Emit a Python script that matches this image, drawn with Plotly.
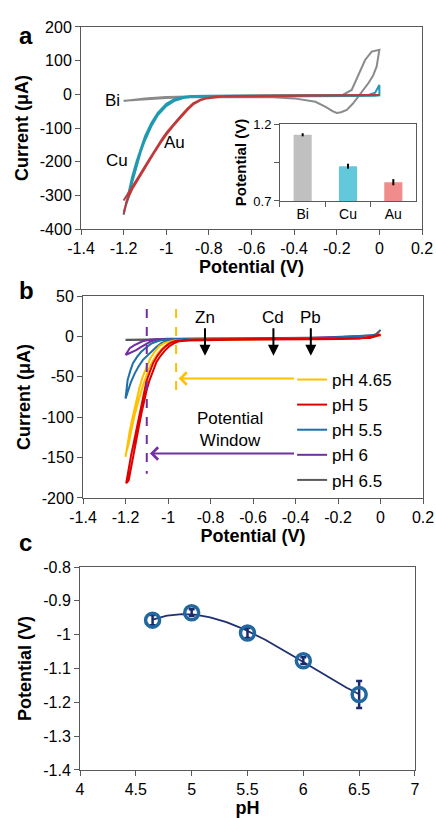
import numpy as np
import plotly.graph_objects as go

# ---------------- Panel a : CVs on Bi, Cu, Au ----------------
bi_potential = [-1.2, -1.15, -1.1, -1.0, -0.9, -0.8, -0.6, -0.4, -0.25, -0.17, -0.13, -0.1, -0.067, -0.036, 0.0,
                -0.013, -0.03, -0.052, -0.075, -0.099, -0.125, -0.153, -0.18, -0.2, -0.22, -0.25, -0.3, -0.4,
                -0.5, -0.7, -0.9, -1.0, -1.1, -1.2]
bi_current = [-20, -16, -12, -8, -6, -5, -4, -3, -2, -1, 13, 55, 102, 127, 132,
              82, 55, 33, 12, -7, -28, -46, -53, -55, -50, -38, -22, -12,
              -9, -8, -9, -11, -15, -19]

cu_potential = [-1.2, -1.19, -1.18, -1.16, -1.14, -1.12, -1.1, -1.07, -1.04, -1.0, -0.96, -0.92, -0.88, -0.8,
                -0.6, -0.4, -0.2, -0.1, -0.05, -0.02, 0.0,
                0.0, -0.02, -0.1, -0.3, -0.6, -0.8, -0.88, -0.92, -0.96, -1.0, -1.04, -1.07, -1.1, -1.12,
                -1.14, -1.16, -1.18, -1.2]
cu_current = [-358, -330, -300, -245, -200, -160, -125, -85, -55, -28, -14, -8, -5, -4,
              -3, -3, -3, -3, -2, 5, 28,
              -3, -4, -5, -5, -5, -5, -7, -11, -19, -35, -62, -95, -137, -172,
              -215, -262, -312, -350]

au_potential = [-1.2, -1.186, -1.16, -1.13, -1.09, -1.053, -1.02, -0.998, -0.965, -0.935, -0.9, -0.874, -0.84,
                -0.81, -0.76, -0.72, -0.6, -0.4, -0.2, 0.0,
                0.0, -0.2, -0.4, -0.6, -0.72, -0.76, -0.81, -0.84, -0.874, -0.9, -0.935, -0.965, -0.998,
                -1.02, -1.053, -1.09, -1.13, -1.16, -1.186, -1.2]
au_current = [-355, -318, -282, -250, -208, -170, -138, -118, -92, -70, -46, -30, -18,
              -12, -7, -5, -4, -3, -3, -2,
              -2, -3, -3, -4, -5, -6.5, -11, -16, -27, -42, -66, -88, -113,
              -133, -165, -203, -245, -275, -305, -315]

# inset: potential window width per electrode
electrodes = ["Bi", "Cu", "Au"]
window_width = [1.13, 0.926, 0.822]
window_width_err = [0.01, 0.016, 0.02]

# ---------------- Panel b : Bi electrode at different pH ----------------
ph46_potential = [-1.2, -1.19, -1.18, -1.168, -1.157, -1.145, -1.134, -1.118, -1.102, -1.083, -1.063, -1.04,
                  -1.016, -0.99, -0.96, -0.9, -0.7, -0.4, -0.1, 0.0,
                  0.0, -0.1, -0.4, -0.7, -0.9, -0.95, -0.98, -1.004, -1.028, -1.051, -1.071, -1.09, -1.106,
                  -1.122, -1.138, -1.155, -1.17, -1.185, -1.2]
ph46_current = [-149, -132, -117, -102, -88, -75, -63, -49, -38, -27, -19, -12,
                -8, -6, -4.5, -4, -3.5, -3, -2.5, 1,
                1, -2.5, -3, -3.5, -4, -5, -7, -10, -15, -22, -30, -40, -51,
                -64, -79, -95, -113, -133, -147]

ph5_potential = [-1.197, -1.185, -1.173, -1.16, -1.15, -1.138, -1.126, -1.114, -1.102, -1.086, -1.07, -1.05,
                 -1.03, -1.01, -0.99, -0.96, -0.9, -0.8, -0.6, -0.4, -0.2, -0.05, 0.0,
                 0.0, -0.1, -0.3, -0.5, -0.7, -0.9, -0.95, -0.975, -0.995, -1.015, -1.035, -1.055, -1.072,
                 -1.088, -1.1, -1.112, -1.124, -1.136, -1.148, -1.16, -1.172, -1.185, -1.197]
ph5_current = [-182, -162, -146, -130, -117, -100, -83, -69, -56, -44, -33, -24,
               -17, -12, -8, -5, -4, -3.5, -3, -3, -2.5, -2, 2,
               2, -3, -3.5, -3.5, -4, -5, -6, -9, -12.5, -17.5, -24, -32, -43,
               -55, -66, -79, -94, -110, -127, -145, -162, -178, -182]

ph55_potential = [-1.2, -1.195, -1.19, -1.178, -1.165, -1.145, -1.126, -1.1, -1.079, -1.05, -1.02, -0.98,
                  -0.9, -0.6, -0.3, 0.0,
                  0.0, -0.3, -0.6, -0.9, -0.97, -0.99, -1.01, -1.03, -1.055, -1.079, -1.1, -1.118, -1.138,
                  -1.157, -1.175, -1.194, -1.2]
ph55_current = [-77, -65, -54, -43, -33, -25, -19, -13, -9, -6, -4, -3.5,
                -3, -3, -2.5, 2,
                2, -2.5, -3, -3.5, -3.5, -4, -6, -8, -13, -19, -24, -29, -37,
                -46, -57, -73, -77]

ph6_potential = [-1.2, -1.19, -1.18, -1.16, -1.14, -1.12, -1.094, -1.06, -1.0, -0.8, -0.4, 0.0,
                 0.0, -0.4, -0.8, -1.0, -1.05, -1.08, -1.11, -1.13, -1.15, -1.17, -1.19, -1.2]
ph6_current = [-23, -18, -14.6, -11, -8, -6, -4.5, -3.5, -3, -3, -2.5, 1.5,
               1.5, -2.5, -3, -3.5, -4.5, -6, -10, -13.5, -17, -19.5, -21, -23]

ph65_potential = [-1.2, -1.0, -0.8, -0.6, -0.4, -0.2, -0.1, -0.05, -0.02, 0.0,
                  -0.02, -0.05, -0.1, -0.3, -0.6, -0.9, -1.2]
ph65_current = [-4, -3.5, -3, -2.5, -2, -1.5, -1, 0, 3, 8,
                2, -1, -2, -3, -3.5, -4, -4.5]

# markers in panel b
metal_labels = ["Zn", "Cd", "Pb"]
metal_potentials = [-0.826, -0.504, -0.328]
window_limits = [-0.962, -1.10]          # pH 4.65 (yellow), pH 6 (purple)

# ---------------- Panel c : window limit vs pH ----------------
ph_values = [4.65, 5.0, 5.5, 6.0, 6.5]
window_limit = [-0.957, -0.935, -0.995, -1.077, -1.177]
window_limit_err = [0.015, 0.01, 0.015, 0.01, 0.04]

# tick labels (plain hyphen minus, as in the figure)
pot_ticks = [-1.4, -1.2, -1.0, -0.8, -0.6, -0.4, -0.2, 0.0, 0.2]
pot_ticklabels = ["-1.4", "-1.2", "-1", "-0.8", "-0.6", "-0.4", "-0.2", "0", "0.2"]
a_cur_ticks = [-400, -300, -200, -100, 0, 100, 200]
a_cur_ticklabels = ["-400", "-300", "-200", "-100", "0", "100", "200"]
b_cur_ticks = [-200, -150, -100, -50, 0, 50]
b_cur_ticklabels = ["-200", "-150", "-100", "-50", "0", "50"]
ph_ticks = [4, 4.5, 5, 5.5, 6, 6.5, 7]
ph_ticklabels = ["4", "4.5", "5", "5.5", "6", "6.5", "7"]
c_pot_ticks = [-1.4, -1.3, -1.2, -1.1, -1.0, -0.9, -0.8]
c_pot_ticklabels = ["-1.4", "-1.3", "-1.2", "-1.1", "-1", "-0.9", "-0.8"]
inset_ticks = [0.7, 0.95, 1.2]
inset_ticklabels = ["0.7", "", "1.2"]

FONT = "Liberation Sans, Arial, sans-serif"
AX = "#595959"

fig = go.Figure()

# panel a traces
fig.add_trace(go.Scatter(x=bi_potential, y=bi_current, mode="lines", line=dict(color="#8a8a8a", width=2),
                         showlegend=False, xaxis="x", yaxis="y", hoverinfo="skip"))
fig.add_trace(go.Scatter(x=cu_potential, y=cu_current, mode="lines", line=dict(color="#1f9ab0", width=2),
                         showlegend=False, xaxis="x", yaxis="y", hoverinfo="skip"))
fig.add_trace(go.Scatter(x=au_potential, y=au_current, mode="lines", line=dict(color="#c0393a", width=2),
                         showlegend=False, xaxis="x", yaxis="y", hoverinfo="skip"))

# inset
fig.add_trace(go.Bar(x=electrodes, y=window_width, width=0.4,
                     marker=dict(color=["#c0c0c0", "#62c9dd", "#f08c8c"], line=dict(width=0)),
                     error_y=dict(type="data", array=window_width_err, color="black", thickness=2, width=0),
                     showlegend=False, xaxis="x4", yaxis="y4", hoverinfo="skip"))

# panel b traces (draw order) with legend ranks
b_series = [
    ("pH 6.5", ph65_potential, ph65_current, "#595959", 5),
    ("pH 6", ph6_potential, ph6_current, "#7030a0", 4),
    ("pH 5.5", ph55_potential, ph55_current, "#1f6fa8", 3),
    ("pH 4.65", ph46_potential, ph46_current, "#ffc000", 1),
    ("pH 5", ph5_potential, ph5_current, "#e00000", 2),
]
for name, xs, ys, col, rank in b_series:
    fig.add_trace(go.Scatter(x=xs, y=ys, mode="lines", name=name, line=dict(color=col, width=2),
                             legendrank=rank, xaxis="x2", yaxis="y2", hoverinfo="skip"))

# panel c traces (polynomial trendline of the measured points)
coef = np.polyfit(ph_values, window_limit, 3)
ph_fine = np.linspace(min(ph_values), max(ph_values), 100)
fig.add_trace(go.Scatter(x=ph_fine, y=np.polyval(coef, ph_fine), mode="lines",
                         line=dict(color="#1f3070", width=1.8), showlegend=False,
                         xaxis="x3", yaxis="y3", hoverinfo="skip"))
fig.add_trace(go.Scatter(x=ph_values, y=window_limit, mode="markers",
                         marker=dict(symbol="circle-open", size=14, color="#21689f", line=dict(width=3.5)),
                         error_y=dict(type="data", array=window_limit_err, color="#1a2a6c", thickness=2.5, width=3),
                         showlegend=False, xaxis="x3", yaxis="y3", hoverinfo="skip"))


def ax_style(**kw):
    base = dict(showline=True, linecolor=AX, linewidth=1, mirror=True, ticks="outside", ticklen=5,
                tickcolor=AX, showgrid=False, zeroline=False, automargin=False,
                tickfont=dict(family=FONT, size=16, color="black"))
    base.update(kw)
    return base


def title(text, size=18, standoff=6):
    return dict(text="<b>" + text + "</b>", font=dict(family=FONT, size=size, color="black"), standoff=standoff)


fig.update_layout(
    width=436, height=818, margin=dict(l=0, r=0, t=0, b=0, autoexpand=False),
    paper_bgcolor="white", plot_bgcolor="white",
    font=dict(family=FONT, color="black"),
    xaxis=ax_style(domain=[0.1858, 0.9679], anchor="y", range=[-1.4, 0.2], tickvals=pot_ticks,
                   ticktext=pot_ticklabels, title=title("Potential (V)", standoff=4)),
    yaxis=ax_style(domain=[0.7200, 0.9670], anchor="x", range=[-400, 200], tickvals=a_cur_ticks,
                   ticktext=a_cur_ticklabels, title=title("Current (μA)", standoff=6)),
    xaxis2=ax_style(domain=[0.1904, 0.9702], anchor="y2", range=[-1.4, 0.2], tickvals=pot_ticks,
                    ticktext=pot_ticklabels, title=title("Potential (V)", standoff=4)),
    yaxis2=ax_style(domain=[0.3912, 0.6381], anchor="x2", range=[-200, 50], tickvals=b_cur_ticks,
                    ticktext=b_cur_ticklabels, title=title("Current (μA)", standoff=6)),
    xaxis3=ax_style(domain=[0.1835, 0.9518], anchor="y3", range=[4, 7], tickvals=ph_ticks,
                    ticktext=ph_ticklabels, title=title("pH", standoff=0)),
    yaxis3=ax_style(domain=[0.0587, 0.3068], anchor="x3", range=[-1.4, -0.8], tickvals=c_pot_ticks,
                    ticktext=c_pot_ticklabels, title=title("Potential (V)", standoff=6)),
    xaxis4=ax_style(domain=[0.6422, 0.9541], anchor="y4", tickson="boundaries",
                    tickfont=dict(family=FONT, size=14, color="black")),
    yaxis4=ax_style(domain=[0.7543, 0.8484], anchor="x4", range=[0.7, 1.2], tickvals=inset_ticks,
                    ticktext=inset_ticklabels, tickfont=dict(family=FONT, size=13, color="black"),
                    title=title("Potential (V)", size=15, standoff=3)),
    bargap=0.6,
    showlegend=True,
    legend=dict(x=0.67, y=0.5575, xanchor="left", yanchor="top", bgcolor="rgba(0,0,0,0)",
                font=dict(family=FONT, size=17, color="black"), itemwidth=30, tracegroupgap=0),
)

ann = []
# panel letters
for letter, yy in [("a", 0.975), ("b", 0.645), ("c", 0.318)]:
    ann.append(dict(text="<b>" + letter + "</b>", x=0.04, y=yy, xref="paper", yref="paper",
                    showarrow=False, font=dict(family=FONT, size=24, color="black")))
# panel a labels
for lab, xx, yy in [("Bi", -1.25, -17), ("Cu", -1.231, -195), ("Au", -0.959, -142)]:
    ann.append(dict(text=lab, x=xx, y=yy, xref="x", yref="y", showarrow=False,
                    font=dict(family=FONT, size=17, color="black")))
# panel b metal arrows
for lab, xx in zip(metal_labels, metal_potentials):
    ann.append(dict(text=lab, x=xx, y=-24, ax=xx, ay=23.6, xref="x2", yref="y2", axref="x2", ayref="y2",
                    showarrow=True, arrowhead=2, arrowsize=1.1, arrowwidth=2, arrowcolor="black", standoff=0,
                    font=dict(family=FONT, size=17, color="black")))
# window arrows
ann.append(dict(text="", x=-0.95, y=-52, ax=-0.40, ay=-52, xref="x2", yref="y2", axref="x2", ayref="y2",
                showarrow=True, arrowhead=4, arrowsize=1.2, arrowwidth=2, arrowcolor="#ffc000"))
ann.append(dict(text="", x=-1.085, y=-145, ax=-0.40, ay=-145, xref="x2", yref="y2", axref="x2", ayref="y2",
                showarrow=True, arrowhead=4, arrowsize=1.2, arrowwidth=2, arrowcolor="#7030a0"))
ann.append(dict(text="Potential<br>Window", x=-0.708, y=-115, xref="x2", yref="y2", showarrow=False,
                font=dict(family=FONT, size=17, color="black")))
fig.update_layout(annotations=ann)

shapes = [
    dict(type="line", xref="x2", yref="y2", x0=window_limits[0], x1=window_limits[0], y0=34, y1=-74,
         line=dict(color="#ffc000", width=2, dash="dash")),
    dict(type="line", xref="x2", yref="y2", x0=window_limits[1], x1=window_limits[1], y0=34, y1=-170,
         line=dict(color="#7030a0", width=2, dash="dash")),
]
fig.update_layout(shapes=shapes)

fig.write_html("out.html")
